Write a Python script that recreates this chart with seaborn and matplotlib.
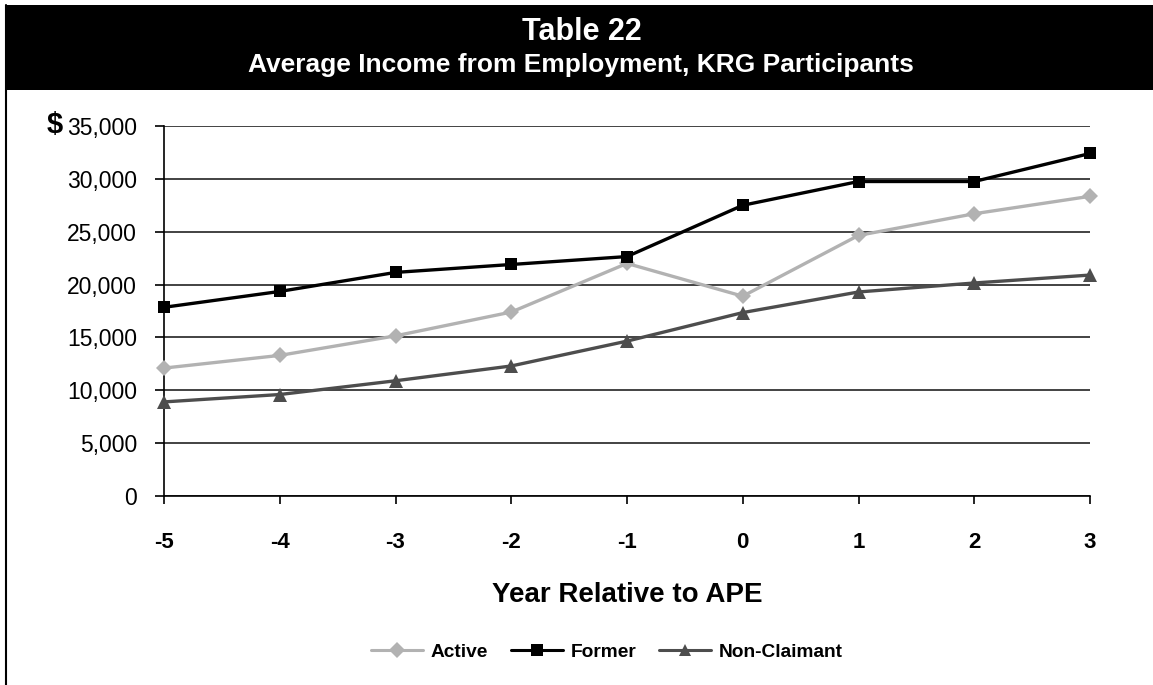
import matplotlib
matplotlib.use("Agg")
import matplotlib.pyplot as plt
import seaborn as sns
import pandas as pd
from matplotlib.patches import Rectangle
from matplotlib.lines import Line2D
from matplotlib.ticker import FuncFormatter

# ---- data ----
years = [-5, -4, -3, -2, -1, 0, 1, 2, 3]
active = [12100, 13300, 15150, 17400, 22000, 18900, 24650, 26700, 28350]
former = [17850, 19350, 21150, 21900, 22650, 27500, 29750, 29750, 32400]
non_claimant = [8900, 9600, 10900, 12300, 14650, 17350, 19300, 20150, 20900]
series_names = ["Active", "Former", "Non-Claimant"]
y_ticks = [0, 5000, 10000, 15000, 20000, 25000, 30000, 35000]

title = "Table 22"
subtitle = "Average Income from Employment, KRG Participants"
x_label = "Year Relative to APE"

sns.set_theme(style="white")
plt.rcParams['font.family'] = ['Liberation Sans', 'DejaVu Sans']
plt.rcParams['text.color'] = 'black'
plt.rcParams['xtick.color'] = 'black'
plt.rcParams['ytick.color'] = 'black'
plt.rcParams['axes.labelcolor'] = 'black'

rows = []
for name, vals in zip(series_names, [active, former, non_claimant]):
    for yr, v in zip(years, vals):
        rows.append({"Year": yr, "Income": v, "Series": name})
df = pd.DataFrame(rows)

W, H = 1153, 685
fig = plt.figure(figsize=(W / 100, H / 100), dpi=100)
fig.patch.set_facecolor("white")

ax = fig.add_axes([164 / W, 1 - 496 / H, (1090 - 164) / W, (496 - 126) / H])

palette = {"Active": "#b2b2b2", "Former": "#000000", "Non-Claimant": "#4d4d4d"}
markers = {"Active": "D", "Former": "s", "Non-Claimant": "^"}
sns.lineplot(data=df, x="Year", y="Income", hue="Series", style="Series",
             hue_order=series_names, style_order=series_names,
             markers=markers, dashes=False, palette=palette,
             linewidth=2.4, markeredgewidth=0, ax=ax, legend=False)

msize = {"Active": 8, "Former": 8.5, "Non-Claimant": 10}
for line, name in zip(ax.lines, series_names):
    line.set_markersize(msize[name])
    line.set_clip_on(False)
    line.set_zorder(5)

ax.set_xlim(-5, 3)
ax.set_ylim(0, 35000)
ax.set_xticks(years)
ax.set_xticklabels([str(y) for y in years], fontsize=16, fontweight="bold", color="black")
ax.set_yticks(y_ticks)
ax.yaxis.set_major_formatter(FuncFormatter(lambda v, p: f"{int(v):,}"))
for lbl in ax.get_yticklabels():
    lbl.set_fontsize(16.5)
    lbl.set_color("black")
ax.tick_params(axis="y", direction="out", length=6.5, width=1.2, color="black",
               labelcolor="black", labelsize=16.5, pad=13, left=True)
ax.tick_params(axis="x", direction="out", length=6, width=1.2, color="black",
               labelcolor="black", pad=20, bottom=True)
ax.yaxis.grid(True, color="#222222", linewidth=1.2)
ax.xaxis.grid(False)
ax.set_axisbelow(True)
for s in ["top", "right"]:
    ax.spines[s].set_visible(False)
for s in ["left", "bottom"]:
    ax.spines[s].set_color("black")
    ax.spines[s].set_linewidth(1.2)
ax.set_xlabel("")
ax.set_ylabel("")

ax_cx = (164 + 1090) / 2 / W
fig.text(ax_cx, 1 - 595 / H, x_label, ha="center", va="center", fontsize=20,
         fontweight="bold", color="black")
fig.text(63 / W, 1 - 125 / H, "$", ha="right", va="center", fontsize=21,
         fontweight="bold", color="black")

# header band and border
fig.patches.append(Rectangle((6 / W, 1 - 90 / H), 1, 85 / H, transform=fig.transFigure,
                             facecolor="black", edgecolor="none", zorder=0))
fig.lines.append(Line2D([6 / W, 6 / W], [0, 1 - 5 / H], transform=fig.transFigure,
                        color="black", linewidth=1.5))
fig.text(582 / W, 1 - 32 / H, title, ha="center", va="center", color="white",
         fontsize=22, fontweight="bold")
fig.text(581 / W, 1 - 65 / H, subtitle, ha="center", va="center", color="white",
         fontsize=19, fontweight="bold")

handles = [Line2D([], [], color=palette[n], marker=markers[n], linewidth=2.2,
                  markersize=8, markeredgewidth=0) for n in series_names]
leg = fig.legend(handles, series_names, loc="center", bbox_to_anchor=(607 / W, 1 - 652 / H),
                 ncol=3, frameon=False, prop={"weight": "bold", "size": 13.8},
                 handlelength=2.7, handletextpad=0.4, columnspacing=1.2)
for t in leg.get_texts():
    t.set_color("black")

fig.savefig("out.png", dpi=100)
